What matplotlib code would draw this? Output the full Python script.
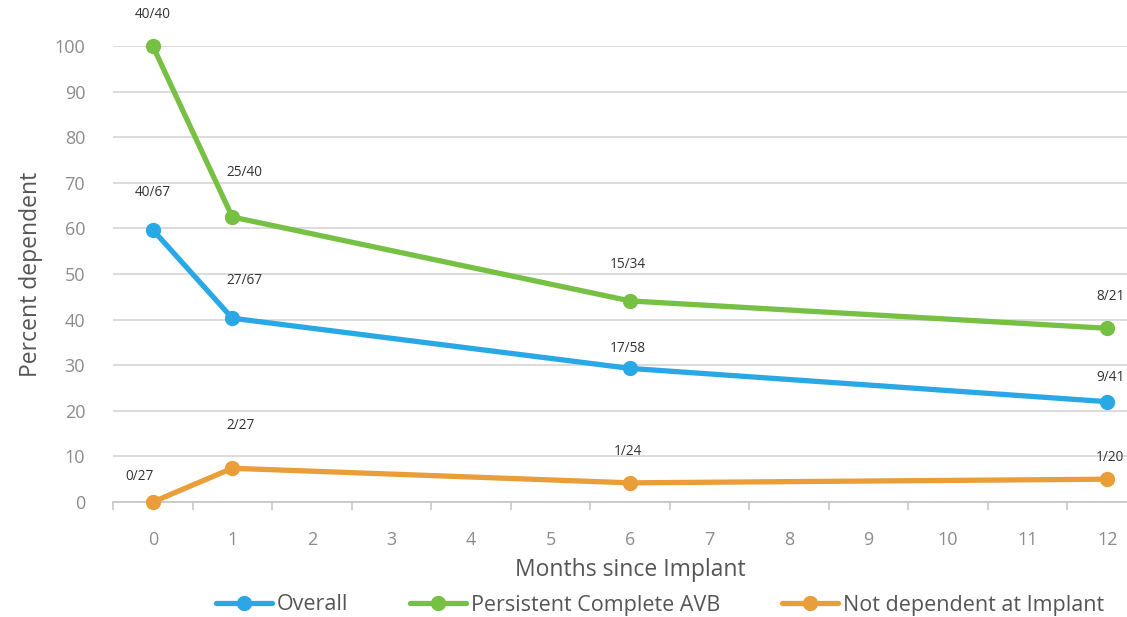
#!/usr/bin/env python3

import matplotlib
matplotlib.use("Agg")
import matplotlib.pyplot as plt
import numpy as np

#Data
months = [0, 1, 6, 12]
overall = [59.7, 40.3, 29.3, 22.0]
persistent = [100.0, 62.5, 44.1, 38.1]
not_dependent = [0.0, 7.4, 4.2, 5.0]

overall_labels = ['40/67', '27/67', '17/58', '9/41']
persistent_labels = ['40/40', '25/40', '15/34', '8/21']
not_dependent_labels = ['0/27', '2/27', '1/24', '1/20']

series_names = ['Overall', 'Persistent Complete AVB', 'Not dependent at Implant']
x_ticks = list(range(13))
y_ticks = list(range(0, 101, 10))

#Label offsets in pixels (dx, dy)
overall_offsets = [(0, 37), (12, 38), (-2, 20), (3, 24)]
persistent_offsets = [(0, 32), (12, 44), (-2, 36), (3, 32)]
not_dependent_offsets = [(-13, 26), (8, 43), (-2, 31), (3, 22)]

blue = '#2AA8E6'
green = '#76C043'
orange = '#E99E3A'
gray_text = '#8C8C8C'

plt.rcParams['font.family'] = ['Open Sans', 'DejaVu Sans']

fig = plt.figure(figsize=(11.27, 6.17), dpi=100)
ax = fig.add_axes([113 / 1127, 1 - 502 / 617, 1034 / 1127, 456 / 617])

series = [
	(overall, overall_labels, overall_offsets, blue),
	(persistent, persistent_labels, persistent_offsets, green),
	(not_dependent, not_dependent_labels, not_dependent_offsets, orange),
]

handles = []
for (values, labels, offsets, color), name in zip(series, series_names):
	h, = ax.plot(months, values, color=color, lw=3.8, marker='o', ms=10,
		solid_capstyle='round', clip_on=False, zorder=3, label=name)
	handles.append(h)
	for m, v, lab, off in zip(months, values, labels, offsets):
		ax.annotate(lab, (m, v), xytext=off, textcoords='offset pixels',
			ha='center', va='center', fontsize=9.8, color='#333333',
			annotation_clip=False)

#Axes styling
ax.set_xlim(-0.5, 12.5)
ax.set_ylim(0, 100)
ax.set_yticks(y_ticks)
ax.set_xticks(x_ticks)
ax.set_xticks(np.arange(-0.5, 12.6, 1), minor=True)
ax.grid(axis='y', color='#D9D9D9', lw=1.3)
ax.set_axisbelow(True)
for s in ['left', 'right', 'top']:
	ax.spines[s].set_visible(False)
ax.spines['bottom'].set_color('#C8C8C8')
ax.spines['bottom'].set_linewidth(1.3)
ax.tick_params(axis='y', length=0, pad=20, labelsize=13, labelcolor=gray_text)
ax.tick_params(axis='x', which='major', length=0, pad=21, labelsize=13, labelcolor=gray_text)
ax.tick_params(axis='x', which='minor', length=6, color='#C8C8C8', width=1.2)

ax.set_xlabel('Months since Implant', fontsize=16.5, color='#555555', labelpad=6)
ax.set_ylabel('Percent dependent', fontsize=16.5, color='#555555', labelpad=8)

fig.legend(handles=handles, loc='center', bbox_to_anchor=(660 / 1127, 1 - 605 / 617),
	ncol=3, frameon=False, fontsize=15.5, labelcolor='#555555', handlelength=2.6,
	columnspacing=2.9, handletextpad=0.2)

plt.savefig('out.png', dpi=100)
